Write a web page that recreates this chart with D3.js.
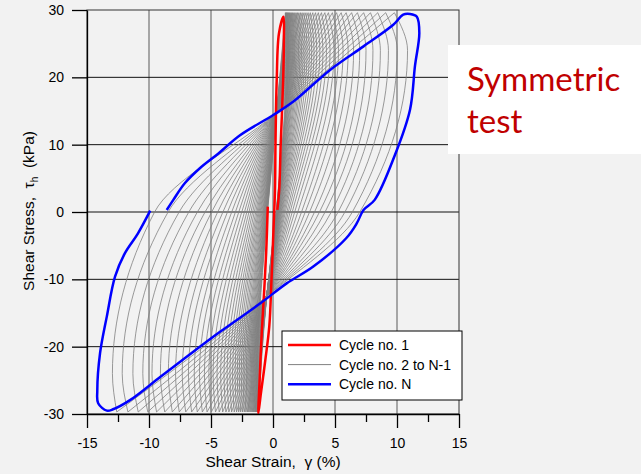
<!DOCTYPE html>
<html>
<head>
<meta charset="utf-8">
<script src="https://cdn.jsdelivr.net/npm/d3@7"></script>
<style>
body { margin: 0; background: #f2f2f2; }
svg { display: block; font-family: "Liberation Sans", Arial, sans-serif; }
</style>
</head>
<body>
<svg id="chart" width="641" height="474"></svg>
<script>
var xTicks = [-15, -10, -5, 0, 5, 10, 15];
var xMinorTicks = [-12.5, -7.5, -2.5, 2.5, 7.5, 12.5];
var yTicks = [-30, -20, -10, 0, 10, 20, 30];
var xGrid = [-10, -5, 0, 5, 10];
var yGrid = [-20, -10, 0, 10, 20];

// cycle no. 1, [strain %, stress kPa]
var cycle1 = [[-0.42, 0.8], [-0.55, -6], [-0.72, -12], [-0.91, -18], [-1.08, -25], [-1.18, -29.9],
  [-0.98, -27], [-0.62, -22], [-0.3, -17], [-0.12, -10], [0.03, -3], [0.16, 3.3], [0.2, 10],
  [0.3, 19.6], [0.48, 26.5], [0.85, 29.0], [0.88, 26], [0.82, 19.6], [0.62, 10], [0.5, 3.3], [0.35, 0.3]];

// cycle no. N
var cycleN = [[-9.9, 0.2], [-10.9, -3.2], [-11.94, -6.1], [-12.74, -9.6], [-13.4, -15.5], [-13.95, -21],
  [-14.17, -26.5], [-14.1, -28.4], [-13.4, -29.5], [-12.9, -29.3], [-11.5, -27.9], [-9.1, -24.5],
  [-6.96, -21.5], [-4.27, -17.8], [-1.05, -13.6], [1.1, -10.6], [3.25, -8.1], [5.9, -3.9], [6.75, -1.7],
  [7.3, 0.3], [8.2, 1.8], [9.84, 8.5], [11.05, 15.2], [11.45, 21.7], [11.8, 26.6], [11.6, 29.0],
  [11.05, 29.4], [10.5, 29.3], [9.7, 27.8], [7.3, 24.6], [4.6, 21.1], [1.64, 16.4], [0.02, 14.4],
  [-2.66, 11.4], [-4.4, 8.7], [-5.9, 6.5], [-7.1, 4.3], [-8.04, 1.8], [-8.57, 0.3]];

// cycles 2 .. N-1 (inner to outer): strain at key stress levels
var tauBottom = -29.7, tauTop = 29.6, tauLoadPivot = -13.2, tauUnloadPivot = 14.3, tauSide = 24;
var grayBottom = [-1.19, -1.24, -1.29, -1.34, -1.40, -1.46, -1.53, -1.60, -1.68, -1.77, -1.86, -1.96, -2.07, -2.19,
  -2.32, -2.46, -2.61, -2.77, -2.94, -3.13, -3.34, -3.56, -3.80, -4.06, -4.34, -4.64, -4.97, -5.32, -5.70, -6.11,
  -6.56, -7.04, -7.56, -8.12, -8.73, -9.39, -10.10, -10.87, -11.70, -12.60];
var grayTop = [1.00, 1.04, 1.08, 1.12, 1.16, 1.21, 1.26, 1.32, 1.38, 1.45, 1.52, 1.59, 1.68, 1.77, 1.87, 1.98,
  2.09, 2.22, 2.35, 2.50, 2.66, 2.83, 3.01, 3.21, 3.43, 3.66, 3.91, 4.18, 4.47, 4.79, 5.13, 5.50, 5.90, 6.34,
  6.81, 7.31, 7.86, 8.45, 9.09, 9.79];
var grayLoadPivot = [-0.54, -0.55, -0.55, -0.55, -0.55, -0.55, -0.56, -0.56, -0.56, -0.56, -0.57, -0.57, -0.58,
  -0.58, -0.58, -0.59, -0.59, -0.60, -0.61, -0.61, -0.62, -0.63, -0.64, -0.65, -0.66, -0.67, -0.68, -0.69, -0.70,
  -0.72, -0.73, -0.75, -0.77, -0.79, -0.81, -0.84, -0.86, -0.89, -0.92, -0.95];
var grayLoadZero = [0.25, 0.26, 0.27, 0.28, 0.29, 0.31, 0.32, 0.34, 0.36, 0.38, 0.40, 0.42, 0.45, 0.48, 0.52,
  0.56, 0.60, 0.65, 0.70, 0.76, 0.83, 0.91, 1.00, 1.12, 1.24, 1.38, 1.55, 1.75, 2.00, 2.30, 2.60, 2.95, 3.35,
  3.75, 4.20, 4.70, 5.25, 5.80, 6.40, 7.00];
var grayRight = [1.10, 1.14, 1.19, 1.23, 1.27, 1.33, 1.39, 1.45, 1.52, 1.59, 1.67, 1.75, 1.85, 1.95, 2.06, 2.18,
  2.30, 2.44, 2.59, 2.75, 2.93, 3.12, 3.31, 3.53, 3.78, 4.03, 4.31, 4.60, 4.92, 5.28, 5.65, 6.06, 6.50, 6.99,
  7.50, 8.06, 8.66, 9.31, 10.02, 10.85];
var grayUnloadPivot = [0.27, 0.27, 0.27, 0.27, 0.27, 0.26, 0.26, 0.26, 0.26, 0.26, 0.25, 0.25, 0.25, 0.25, 0.24,
  0.24, 0.24, 0.23, 0.23, 0.22, 0.22, 0.21, 0.21, 0.20, 0.20, 0.19, 0.18, 0.17, 0.16, 0.15, 0.14, 0.13, 0.12,
  0.11, 0.09, 0.08, 0.06, 0.04, 0.02, 0.00];
var grayUnloadZero = [-0.44, -0.46, -0.48, -0.50, -0.53, -0.56, -0.59, -0.62, -0.66, -0.70, -0.74, -0.79, -0.84,
  -0.90, -0.97, -1.04, -1.12, -1.20, -1.29, -1.39, -1.51, -1.64, -1.78, -1.94, -2.11, -2.30, -2.52, -2.76, -3.03,
  -3.33, -3.67, -4.04, -4.46, -4.95, -5.48, -6.10, -6.79, -7.57, -8.46, -9.55];
var grayLeft = [-1.24, -1.29, -1.34, -1.40, -1.46, -1.52, -1.59, -1.67, -1.75, -1.84, -1.94, -2.04, -2.15, -2.28,
  -2.41, -2.56, -2.72, -2.88, -3.06, -3.26, -3.47, -3.70, -3.95, -4.22, -4.51, -4.83, -5.17, -5.53, -5.93, -6.35,
  -6.82, -7.32, -7.86, -8.44, -9.08, -9.76, -10.50, -11.30, -12.16, -12.95];

var legendLabels = ["Cycle no. 1", "Cycle no. 2 to N-1", "Cycle no. N"];
var legendColors = ["#ff0000", "#808080", "#0000ff"];
var legendWidths = [2.5, 1, 2.5];

var svg = d3.select("#chart");
var x = d3.scaleLinear().domain([-15, 15]).range([87, 459]);
var y = d3.scaleLinear().domain([-30, 30]).range([414, 10]);
var plain = function(d) { return String(d); }; // hyphen minus, like the original

// grid
svg.append("g").selectAll("line").data(xGrid).enter().append("line")
    .attr("x1", function(d) { return x(d); }).attr("x2", function(d) { return x(d); })
    .attr("y1", y(-30)).attr("y2", y(30))
    .attr("stroke", "#5a5a5a").attr("stroke-width", 1);
svg.append("g").selectAll("line").data(yGrid).enter().append("line")
    .attr("x1", x(-15)).attr("x2", x(15))
    .attr("y1", function(d) { return y(d); }).attr("y2", function(d) { return y(d); })
    .attr("stroke", "#111").attr("stroke-width", 1);
svg.append("rect")
    .attr("x", x(-15)).attr("y", y(30))
    .attr("width", x(15) - x(-15)).attr("height", y(-30) - y(30))
    .attr("fill", "none").attr("stroke", "#333").attr("stroke-width", 1);

// loops
var branch = d3.line()
    .x(function(d) { return x(d[0]); })
    .y(function(d) { return y(d[1]); })
    .curve(d3.curveMonotoneY);
var loopLine = d3.line()
    .x(function(d) { return x(d[0]); })
    .y(function(d) { return y(d[1]); })
    .curve(d3.curveCatmullRom.alpha(0.5));

var gray = svg.append("g").attr("fill", "none").attr("stroke", "#808080").attr("stroke-width", 0.8);
grayBottom.forEach(function(b, i) {
    var loading = [[b, tauBottom], [grayLoadPivot[i], tauLoadPivot], [grayLoadZero[i], 0],
        [grayRight[i], tauSide], [grayTop[i], tauTop]];
    var unloading = [[b, tauBottom], [grayLeft[i], -tauSide], [grayUnloadZero[i], 0],
        [grayUnloadPivot[i], tauUnloadPivot], [grayTop[i], tauTop]];
    gray.append("path").attr("d", branch(loading));
    gray.append("path").attr("d", branch(unloading));
});

svg.append("path").datum(cycle1).attr("d", loopLine)
    .attr("fill", "none").attr("stroke", "#ff0000").attr("stroke-width", 2.5);
svg.append("path").datum(cycleN).attr("d", loopLine)
    .attr("fill", "none").attr("stroke", "#0000ff").attr("stroke-width", 2.5);

// axes
var xAxis = svg.append("g").attr("transform", "translate(0," + y(-30) + ")")
    .call(d3.axisBottom(x).tickValues(xTicks).tickFormat(plain).tickSize(14).tickSizeOuter(0).tickPadding(10));
var xMinor = svg.append("g").attr("transform", "translate(0," + y(-30) + ")")
    .call(d3.axisBottom(x).tickValues(xMinorTicks).tickSize(8).tickFormat(""));
xMinor.select(".domain").remove();
var yAxis = svg.append("g").attr("transform", "translate(" + x(-15) + ",0)")
    .call(d3.axisLeft(y).tickValues(yTicks).tickFormat(plain).tickSize(15).tickSizeOuter(0).tickPadding(8));
svg.selectAll(".tick line, .domain").attr("stroke", "#000").attr("stroke-width", 1.3);
svg.selectAll(".tick text").attr("font-family", "Liberation Sans, Arial, sans-serif")
    .attr("font-size", 14).attr("fill", "#000");

// axis titles
svg.append("text")
    .attr("x", 273).attr("y", 467).attr("text-anchor", "middle")
    .attr("font-size", 15.5).style("white-space", "pre")
    .text("Shear Strain,  \u03b3 (%)");
var yt = svg.append("text")
    .attr("transform", "translate(34,211) rotate(-90)")
    .attr("text-anchor", "middle").attr("font-size", 15.5).style("white-space", "pre");
yt.append("tspan").text("Shear Stress,  \u03c4");
yt.append("tspan").attr("font-size", 10).attr("dy", 4).text("h");
yt.append("tspan").attr("dy", -4).text("  (kPa)");

// legend
var lg = svg.append("g");
lg.append("rect").attr("x", 282).attr("y", 331).attr("width", 180).attr("height", 69)
    .attr("fill", "#fff").attr("stroke", "#000").attr("stroke-width", 1);
legendLabels.forEach(function(t, i) {
    var ly = 345 + i * 19.6;
    lg.append("line").attr("x1", 288).attr("x2", 331).attr("y1", ly).attr("y2", ly)
        .attr("stroke", legendColors[i]).attr("stroke-width", legendWidths[i]);
    lg.append("text").attr("x", 339).attr("y", ly + 5.2).attr("font-size", 14).text(t);
});

// note box
svg.append("rect").attr("x", 448).attr("y", 45).attr("width", 193).attr("height", 109).attr("fill", "#fff");
svg.append("text").attr("x", 467).attr("y", 91).attr("font-family", "Lato, 'Open Sans', sans-serif")
    .attr("font-size", 33).attr("fill", "#c00000").text("Symmetric");
svg.append("text").attr("x", 467).attr("y", 133).attr("font-family", "Lato, 'Open Sans', sans-serif")
    .attr("font-size", 33).attr("fill", "#c00000").text("test");
</script>
</body>
</html>
